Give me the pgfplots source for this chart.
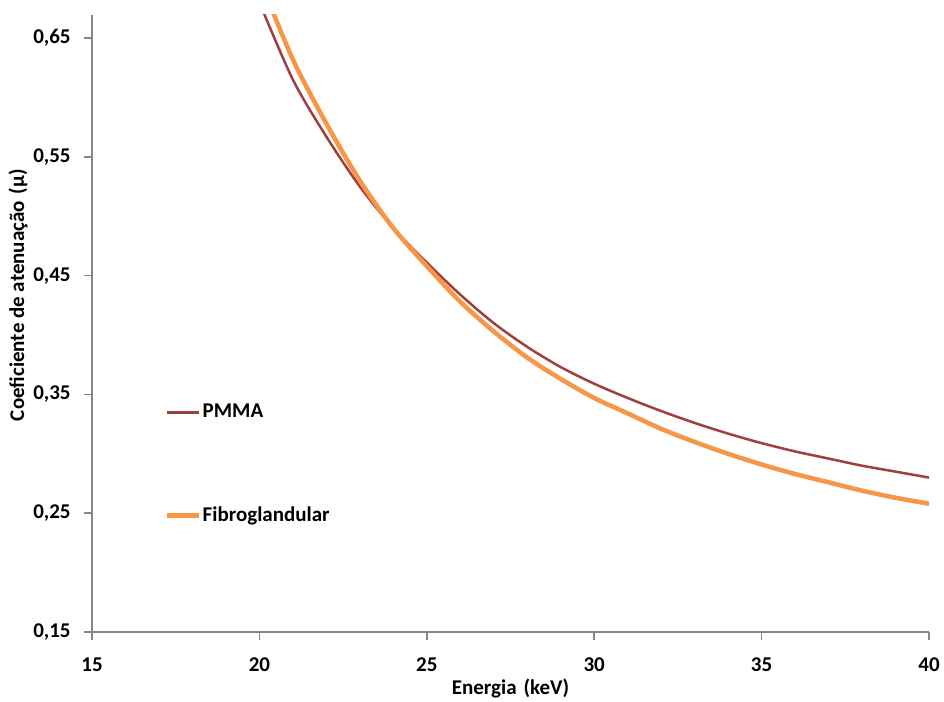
\documentclass[border=0pt]{standalone}
\usepackage{fontspec}
\setmainfont{Carlito}
\usepackage{pgfplots}
\pgfplotsset{compat=1.18}
\definecolor{pmmared}{RGB}{160,64,62}
\definecolor{fibroorange}{RGB}{247,150,70}
\definecolor{axisgray}{RGB}{134,134,134}

\begin{document}
\begin{tikzpicture}
\begin{axis}[
  scale only axis,
  width=418.5pt, height=308.5pt,
  xmin=15, xmax=40,
  ymin=0.15, ymax=0.6694,
  xtick={15,20,25,30,35,40},
  ytick={0.15,0.25,0.35,0.45,0.55,0.65},
  axis lines=left,
  axis line style={-, draw=axisgray, line width=0.75pt},
  tick style={draw=axisgray, line width=0.75pt},
  tick align=outside,
  major tick length=4pt,
  font=\fontsize{10.5}{12}\selectfont\bfseries,
  /pgf/number format/assume math mode=true,
  yticklabel style={/pgf/number format/fixed, /pgf/number format/fixed zerofill,
    /pgf/number format/precision=2, /pgf/number format/use comma},
  every y tick label/.append style={anchor=east, inner sep=0pt, xshift=-6.5pt},
  every x tick label/.append style={anchor=north, inner sep=0pt, yshift=-8.5pt},
  xlabel={Energia\,\,(keV)},
  ylabel={Coeficiente de atenuação\,\,(µ)},
  xlabel style={at={(axis description cs:0.5,-0.092)}, anchor=center, inner sep=0pt},
  ylabel style={at={(axis description cs:-0.0765,0.546)}, anchor=south, inner sep=0pt},
  legend cell align=left,
  legend style={at={(axis description cs:0.087,0.272)}, anchor=west, draw=none, fill=none,
    inner sep=0pt, row sep=42pt, nodes={inner sep=0.5pt},
    font=\fontsize{10.5}{12}\selectfont\bfseries},
  legend image code/.code={\draw[#1] (0pt,0pt) -- (16pt,0pt);},
]
\addplot[pmmared, line width=1.25pt, smooth] coordinates {
(20,0.680)(21,0.615)(22,0.567)(23,0.525)(24,0.490)(25,0.461)(26,0.434)
(27,0.410)(28,0.390)(29,0.373)(30,0.359)(31,0.347)(32,0.336)(33,0.326)
(34,0.317)(35,0.309)(36,0.302)(37,0.296)(38,0.290)(39,0.285)(40,0.280)};
\addplot[fibroorange, line width=2.25pt, smooth] coordinates {
(20,0.700)(21,0.632)(22,0.578)(23,0.530)(24,0.490)(25,0.458)(26,0.428)
(27,0.403)(28,0.381)(29,0.363)(30,0.347)(31,0.334)(32,0.321)(33,0.310)
(34,0.300)(35,0.291)(36,0.283)(37,0.276)(38,0.269)(39,0.263)(40,0.258)};
\legend{PMMA, Fibroglandular}
\end{axis}
\path[use as bounding box] (-46pt,-35pt) rectangle (426pt,316pt);
\end{tikzpicture}
\end{document}
